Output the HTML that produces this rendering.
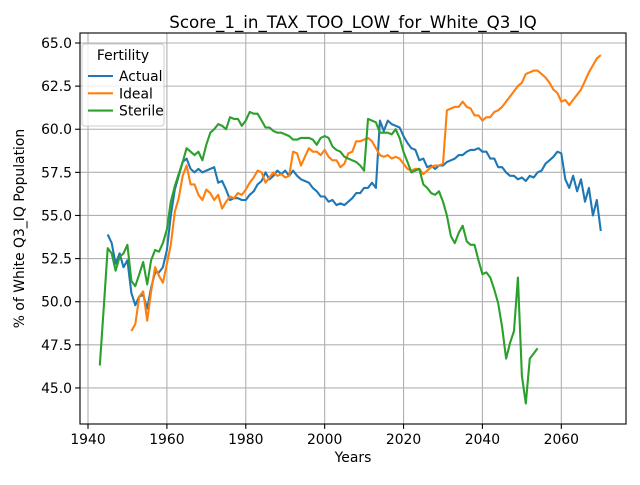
<!DOCTYPE html>
<html><head><meta charset="utf-8"><style>
body{margin:0;background:#fff}
text{font-family:"DejaVu Sans","Liberation Sans",sans-serif;fill:#000}
</style></head><body>
<svg id="c" width="640" height="480" xmlns="http://www.w3.org/2000/svg"></svg>
<script>
const actualStart=1945;
const actualVals=[53.9,53.4,52.2,52.8,52.0,52.4,50.5,49.8,50.3,50.4,49.6,50.8,51.7,51.7,52.0,53.0,55.0,56.5,57.3,58.1,58.3,57.7,57.5,57.7,57.5,57.6,57.7,57.8,56.9,57.0,56.5,55.9,56.0,56.0,55.9,55.9,56.2,56.4,56.8,57.0,57.5,57.1,57.3,57.6,57.4,57.6,57.3,57.6,57.3,57.1,57.0,56.9,56.6,56.4,56.1,56.1,55.8,55.9,55.6,55.7,55.6,55.8,56.0,56.3,56.3,56.6,56.6,56.9,56.6,60.5,59.9,60.5,60.3,60.2,60.1,59.6,59.2,58.9,58.8,58.2,58.3,57.8,57.9,57.7,57.9,57.9,58.1,58.2,58.3,58.5,58.5,58.7,58.8,58.8,58.9,58.7,58.7,58.3,58.3,57.8,57.8,57.5,57.3,57.3,57.1,57.2,57.0,57.3,57.2,57.5,57.6,58.0,58.2,58.4,58.7,58.6,57.1,56.6,57.3,56.4,57.1,55.8,56.6,55.0,55.9,54.1];
const idealStart=1951;
const idealVals=[48.3,48.7,50.3,50.6,48.9,50.6,52.0,51.5,51.1,52.2,53.3,55.2,56.0,57.3,57.9,56.8,56.8,56.2,55.9,56.5,56.3,55.9,56.2,55.4,55.8,56.1,56.0,56.3,56.2,56.5,56.9,57.2,57.6,57.5,56.9,57.2,57.5,57.3,57.4,57.2,57.3,58.7,58.6,57.9,58.4,58.9,58.7,58.7,58.5,58.8,58.4,58.2,58.2,57.8,58.0,58.6,58.7,59.3,59.3,59.4,59.5,59.3,58.9,58.5,58.4,58.5,58.3,58.4,58.3,58.0,57.7,57.6,57.7,57.7,57.4,57.6,57.8,57.9,57.9,58.0,61.1,61.2,61.3,61.3,61.6,61.3,61.2,60.8,60.8,60.5,60.7,60.7,61.0,61.1,61.3,61.6,61.9,62.2,62.5,62.7,63.2,63.3,63.4,63.4,63.2,63.0,62.7,62.3,62.1,61.6,61.7,61.4,61.7,62.0,62.3,62.8,63.3,63.7,64.1,64.3];
const sterileStart=1943;
const sterileVals=[46.3,49.7,53.1,52.8,51.8,52.6,52.8,53.3,51.2,50.9,51.6,52.3,51.0,52.4,53.0,52.9,53.4,54.2,55.8,56.7,57.4,58.1,58.9,58.7,58.5,58.7,58.2,59.1,59.8,60.0,60.3,60.2,60.0,60.7,60.6,60.6,60.2,60.5,61.0,60.9,60.9,60.5,60.1,60.1,59.9,59.8,59.8,59.7,59.6,59.4,59.4,59.5,59.5,59.5,59.4,59.1,59.5,59.6,59.5,59.0,58.8,58.7,58.4,58.3,58.2,58.1,57.9,57.6,60.6,60.5,60.4,59.8,59.8,59.8,59.7,60.0,59.5,58.7,58.1,57.5,57.6,57.7,56.8,56.6,56.3,56.2,56.4,55.8,55.0,53.8,53.4,54.0,54.4,53.5,53.3,53.3,52.4,51.6,51.7,51.4,50.7,49.9,48.5,46.7,47.6,48.3,51.4,45.7,44.1,46.7,47.0,47.3];
const xTicks=[1940,1960,1980,2000,2020,2040,2060];
const yTicks=[45.0,47.5,50.0,52.5,55.0,57.5,60.0,62.5,65.0];
const seriesNames=["Actual","Ideal","Sterile"];
const colors=["#1f77b4","#ff7f0e","#2ca02c"];

const L=80,R=626,T=33,B=424,xmin=1937.97,xmax=2076.4,ymin=42.91,ymax=65.58;
const X=v=>L+(v-xmin)/(xmax-xmin)*(R-L);
const Y=v=>B-(v-ymin)/(ymax-ymin)*(B-T);
const svg=document.getElementById('c');const NS="http://www.w3.org/2000/svg";
function mk(t,a,p){const e=document.createElementNS(NS,t);for(const k in a)e.setAttribute(k,a[k]);(p||svg).appendChild(e);return e;}
mk('rect',{x:0,y:0,width:640,height:480,fill:'#fff'});
xTicks.forEach(t=>{const x=X(t);
 const g=mk('line',{x1:x,x2:x,y1:T,y2:B,stroke:'#b0b0b0','stroke-width':1.1});
 
 mk('line',{x1:x,x2:x,y1:B,y2:B+4.9,stroke:'#000','stroke-width':1.1});
 const tx=mk('text',{x:x,y:B+20,'text-anchor':'middle','font-size':13.9});tx.textContent=t;
 });
yTicks.forEach(t=>{const y=Y(t);
 const g=mk('line',{x1:L,x2:R,y1:y,y2:y,stroke:'#b0b0b0','stroke-width':1.1});
 
 mk('line',{x1:L-4.9,x2:L,y1:y,y2:y,stroke:'#000','stroke-width':1.1});
 const tx=mk('text',{x:L-8,y:y+5,'text-anchor':'end','font-size':13.9});tx.textContent=t.toFixed(1);
 });
[[actualStart,actualVals],[idealStart,idealVals],[sterileStart,sterileVals]].forEach((s,i)=>{
 const pts=s[1].map((v,j)=>X(s[0]+j).toFixed(1)+','+Y(v).toFixed(1)).join(' ');
 const p=mk('polyline',{points:pts,fill:'none',stroke:colors[i],'stroke-width':2.1,'stroke-linejoin':'round'});
 });
const fr=mk('rect',{x:L,y:T,width:R-L,height:B-T,fill:'none',stroke:'#000','stroke-width':1.1});

const ti=mk('text',{x:(L+R)/2,y:28,'text-anchor':'middle','font-size':16.7});ti.textContent='Score_1_in_TAX_TOO_LOW_for_White_Q3_IQ';

const xl=mk('text',{x:(L+R)/2,y:462,'text-anchor':'middle','font-size':13.9});xl.textContent='Years';

const yl=mk('text',{x:0,y:0,'text-anchor':'middle','font-size':13.9,transform:'translate(24,'+((T+B)/2)+') rotate(-90)'});yl.textContent='% of White Q3_IQ Population';

const lg=mk('g',{});
mk('rect',{x:82,y:44,width:82,height:82,rx:3,fill:'#fff','fill-opacity':0.8,stroke:'#ccc','stroke-width':1},lg);
const lt=mk('text',{x:123,y:60,'text-anchor':'middle','font-size':13.9},lg);lt.textContent='Fertility';

seriesNames.forEach((n,i)=>{const y=76+i*17.3;
 const e=mk('g',{},lg);
 mk('line',{x1:88,x2:113,y1:y,y2:y,stroke:colors[i],'stroke-width':2.1},e);
 const t=mk('text',{x:119,y:y+5,'font-size':13.9},e);t.textContent=n;});
</script>
</body></html>
